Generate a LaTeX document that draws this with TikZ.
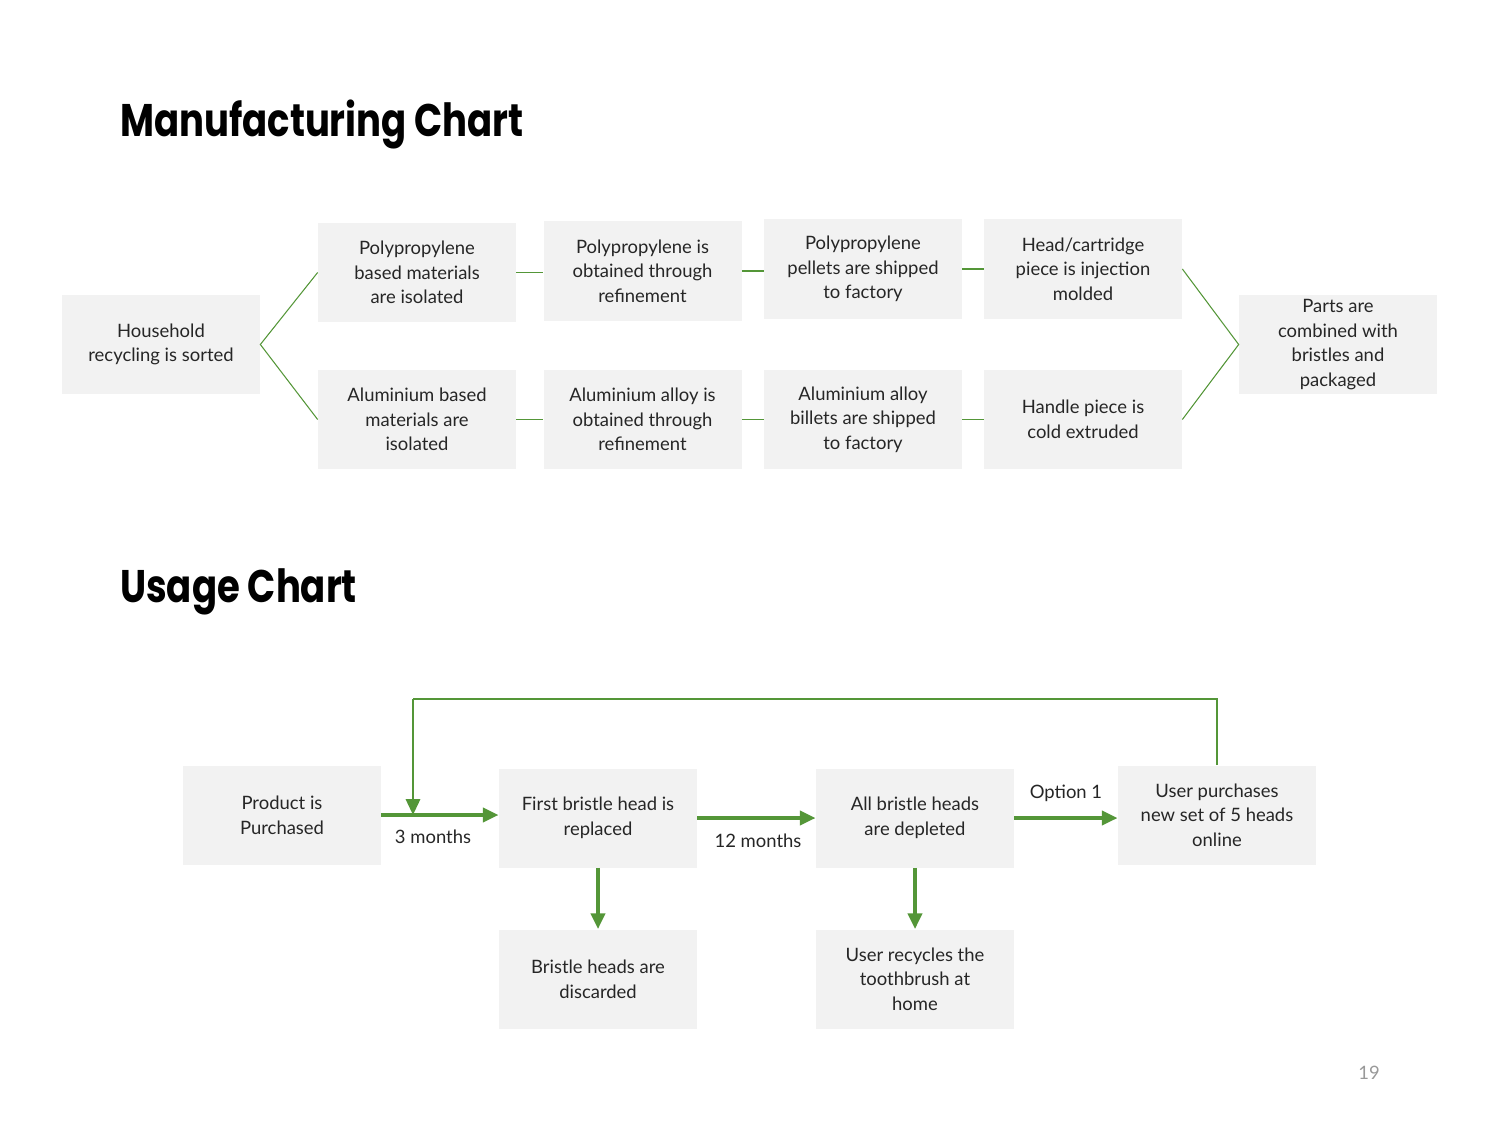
\documentclass[tikz,border=0pt]{standalone}
\usepackage{fontspec}
\setmainfont{Lato}
\newfontfamily\headfont{Poppins}[FakeStretch=0.81]
\usetikzlibrary{arrows.meta}
\definecolor{boxgray}{RGB}{242,242,242}
\definecolor{leaf}{RGB}{84,150,56}
\begin{document}
\begin{tikzpicture}[x=0.02cm, y=-0.02cm,
	every node/.style={font=\fontsize{10.5}{14}\selectfont, text=black!85},
	stage/.style={fill=boxgray, minimum width=198*0.02cm, minimum height=99*0.02cm, align=center, inner sep=2pt},
	thinlink/.style={draw=leaf, line width=0.6pt},
	flow/.style={draw=leaf, line width=2.2pt, -{Triangle[length=9pt, width=8pt]}},
	title/.style={font=\headfont\bfseries\fontsize{26}{30}\selectfont, text=black, anchor=base west}]
	\useasboundingbox (0,0) rectangle (1500,1125);
	%titles
	\node[title] (mtitle) at (114,137) {Manufacturing Chart};
	\node[title] (utitle) at (114,602) {Usage Chart};
	%manufacturing boxes
	\node[stage] (sort) at (161,344.5) {Household\\recycling is sorted};
	\node[stage] (ppiso) at (417,272.5) {Polypropylene\\based materials\\are isolated};
	\node[stage] (ppref) at (642.5,271) {Polypropylene is\\obtained through\\refinement};
	\node[stage] (ppship) at (863,269) {Polypropylene\\pellets are shipped\\to factory};
	\node[stage] (head) at (1083,269) {Head/cartridge\\piece is injection\\molded};
	\node[stage] (aliso) at (417,419.5) {Aluminium based\\materials are\\isolated};
	\node[stage] (alref) at (642.5,419.5) {Aluminium alloy is\\obtained through\\refinement};
	\node[stage] (alship) at (863,419.5) {Aluminium alloy\\billets are shipped\\to factory};
	\node[stage] (handle) at (1083,419.5) {Handle piece is\\cold extruded};
	\node[stage] (pack) at (1338,344.5) {Parts are\\combined with\\bristles and\\packaged};
	%manufacturing links
	\draw[thinlink] (ppiso.west) -- (sort.east) -- (aliso.west);
	\draw[thinlink] (head.east) -- (pack.west) -- (handle.east);
	\foreach \a/\b in {ppiso/ppref, ppref/ppship, ppship/head}
	\draw[thinlink] (\a.east) -- (\a.east -| \b.west);
	\foreach \a/\b in {aliso/alref, alref/alship, alship/handle}
	\draw[thinlink] (\a.east) -- (\b.west);
	%usage boxes
	\node[stage] (buy) at (282,815) {Product is\\Purchased};
	\node[stage] (first) at (598,818) {First bristle head is\\replaced};
	\node[stage] (spent) at (915,818) {All bristle heads\\are depleted};
	\node[stage] (reorder) at (1217,815) {User purchases\\new set of 5 heads\\online};
	\node[stage] (discard) at (598,979) {Bristle heads are\\discarded};
	\node[stage] (recycle) at (915,979) {User recycles the\\toothbrush at\\home};
	%usage arrows
	\draw[flow] (buy.east) -- (buy.east -| first.west);
	\draw[flow] (first.east) -- (spent.west);
	\draw[flow] (spent.east) -- (spent.east -| reorder.west);
	\draw[flow] (first.south) -- (discard.north);
	\draw[flow] (spent.south) -- (recycle.north);
	%loop back
	\coordinate (looptop) at (413,699);
	\coordinate (loopjoin) at (413,815);
	\draw[thinlink] (reorder.north) |- (looptop);
	\draw[flow, line width=1.6pt] (looptop) -- (loopjoin);
	%labels
	\node (lthree) at (433,837) {3 months};
	\node (ltwelve) at (758,841) {12 months};
	\node (lopt) at (1066,793) {Option 1};
	\node[text=black!40] (page) at (1369,1073) {19};
\end{tikzpicture}
\end{document}
